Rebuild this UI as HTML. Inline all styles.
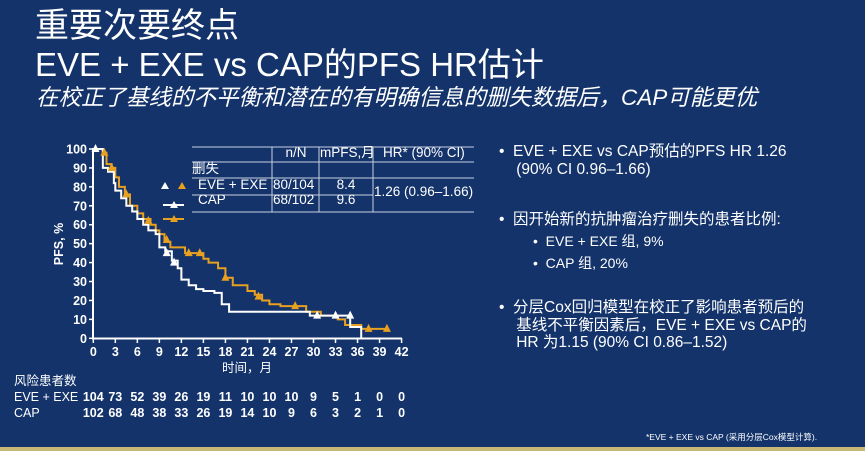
<!DOCTYPE html>
<html><head><meta charset="utf-8"><style>
body{margin:0;width:865px;height:451px;overflow:hidden;background:#13336a;font-family:"Liberation Sans","Noto Sans CJK SC",sans-serif;color:#fff;position:relative}
.a{position:absolute;white-space:nowrap}
</style></head><body>
<div class="a" style="left:35px;top:6px;font-size:34px;line-height:40px">重要次要终点</div>
<div class="a" style="left:35px;top:45px;font-size:33px;line-height:40px">EVE + EXE vs CAP的PFS HR估计</div>
<div class="a" style="left:36px;top:84px;font-size:22.5px;line-height:27px;font-style:italic">在校正了基线的不平衡和潜在的有明确信息的删失数据后，CAP可能更优</div>

<div class="a" style="left:499px;top:143px;font-size:15.5px;line-height:18px">•&nbsp;&nbsp;EVE + EXE vs CAP预估的PFS HR 1.26<br>&nbsp;&nbsp;&nbsp;&nbsp;(90% CI 0.96–1.66)</div>
<div class="a" style="left:499px;top:211px;font-size:15.5px;line-height:18px">•&nbsp;&nbsp;因开始新的抗肿瘤治疗删失的患者比例:</div>
<div class="a" style="left:533px;top:230px;font-size:14px;line-height:22px">•&nbsp;&nbsp;EVE + EXE 组, 9%<br>•&nbsp;&nbsp;CAP 组, 20%</div>
<div class="a" style="left:499px;top:299px;font-size:15.5px;line-height:17.5px">•&nbsp;&nbsp;分层Cox回归模型在校正了影响患者预后的<br>&nbsp;&nbsp;&nbsp;&nbsp;基线不平衡因素后，EVE + EXE vs CAP的<br>&nbsp;&nbsp;&nbsp;&nbsp;HR 为1.15 (90% CI 0.86–1.52)</div>
<div class="a" style="left:646px;top:431px;font-size:8.5px">*EVE + EXE vs CAP (采用分层Cox模型计算).</div>
<div class="a" style="left:0;top:447px;width:865px;height:4px;background:#c8b878"></div>

<svg class="a" style="left:0;top:0" width="865" height="451" id="s">
<g stroke="#c8d0e0" stroke-width="1" fill="none">
<line x1="192" y1="147" x2="474" y2="147"/><line x1="192" y1="162" x2="474" y2="162"/>
<line x1="192" y1="178" x2="474" y2="178"/><line x1="192" y1="195" x2="373" y2="195"/>
<line x1="192" y1="212" x2="474" y2="212"/>
<line x1="272" y1="147" x2="272" y2="212"/><line x1="319" y1="147" x2="319" y2="212"/><line x1="373" y1="147" x2="373" y2="212"/>
</g>
<g font-size="13.5" fill="#fff" font-family="Liberation Sans,Noto Sans CJK SC,sans-serif">
<text x="296" y="157" text-anchor="middle">n/N</text>
<text x="320" y="157">mPFS,月</text>
<text x="383" y="157">HR* (90% CI)</text>
<text x="192" y="173">删失</text>
<text x="198" y="189">EVE + EXE</text>
<text x="198" y="204">CAP</text>
<text x="273" y="189">80/104</text><text x="273" y="204">68/102</text>
<text x="346" y="189" text-anchor="middle">8.4</text><text x="346" y="204" text-anchor="middle">9.6</text>
<text x="374" y="196">1.26 (0.96–1.66)</text>
</g>
<polygon points="161,189 169,189 165,182" fill="#fff"/><polygon points="178,189 186,189 182,182" fill="#e8a020"/>
<line x1="163" y1="205" x2="184" y2="205" stroke="#fff" stroke-width="2"/><polygon points="170,208 178,208 174,201" fill="#fff"/>
<line x1="163" y1="219" x2="184" y2="219" stroke="#e8a020" stroke-width="2"/><polygon points="170,222 178,222 174,215" fill="#e8a020"/>
<g id="ax"></g>
</svg>
<script>
var X=m=>93.3+m*7.34, Y=p=>338.3-p*1.893;
var g=document.getElementById('ax'),h='';
h+='<line x1="93" y1="148" x2="93" y2="339" stroke="#fff" stroke-width="2"/><line x1="92" y1="338.5" x2="402" y2="338.5" stroke="#fff" stroke-width="2"/>';
for(var p=0;p<=100;p+=10){h+='<line x1="89" x2="93" y1="'+Y(p)+'" y2="'+Y(p)+'" stroke="#fff" stroke-width="1.5"/><text x="87" y="'+(Y(p)+4.5)+'" text-anchor="end" font-size="12.5" font-weight="bold" fill="#fff">'+p+'</text>';}
for(var m=0;m<=42;m+=3){h+='<line x1="'+X(m)+'" x2="'+X(m)+'" y1="338" y2="343" stroke="#fff" stroke-width="1.5"/><text x="'+X(m)+'" y="356" text-anchor="middle" font-size="12.5" font-weight="bold" fill="#fff">'+m+'</text>';}
function st(d,c){var s='M'+X(d[0][0])+','+Y(d[0][1]);for(var i=1;i<d.length;i++){s+='H'+X(d[i][0])+'V'+Y(d[i][1]);}return '<path d="'+s+'" fill="none" stroke="'+c+'" stroke-width="2"/>';}
var o=[[0,100],[1.3,98],[1.8,92],[2.5,90],[3,85],[3.5,80],[4.3,76],[5,70],[6,66],[6.8,63],[7.8,60],[8.5,57],[9,55],[9.7,51],[10.5,48],[12.5,45],[15,42],[15.7,40],[17,37],[18,32],[19,28],[21,25],[22,23],[23,20],[24,18],[25.5,17],[28.5,17],[29,14],[31,12],[33.3,10],[34.3,7],[36.5,5],[40.3,5]];
var w=[[0,100],[1.1,100],[1.3,90],[2,88],[2.8,82],[3,78],[3.8,74],[4.5,70],[5.3,67],[6,63],[6.8,60],[7.5,57],[8.5,55],[9,48],[9.8,46],[10.7,41],[11.5,37],[12,31],[13,28],[14,26],[15,25],[16.5,24],[17.5,18],[18.5,14],[29,14],[29.5,12],[35,12],[35,6],[36.5,6],[36.5,0]];
h+=st(o,'#e8a020')+st(w,'#fff');
function tri(m,p,c){var x=X(m),y=Y(p);return '<polygon points="'+(x-4)+','+(y+3)+' '+(x+4)+','+(y+3)+' '+x+','+(y-5)+'" fill="'+c+'"/>';}
[[0.3,100],[10,45],[11,40],[30.5,12],[33,12],[35,12]].forEach(t=>h+=tri(t[0],t[1],'#fff'));
[[1.5,98],[2.5,90],[4.5,76],[7.5,62],[10,52],[13,45],[14.5,45],[18,32],[22.5,22],[27.5,17],[37.5,5],[40,5]].forEach(t=>h+=tri(t[0],t[1],'#e8a020'));
h+='<text x="247" y="372" text-anchor="middle" font-size="12.5" fill="#fff">时间，月</text>';
h+='<text transform="translate(63,244) rotate(-90)" text-anchor="middle" font-size="12.5" font-weight="bold" fill="#fff">PFS, %</text>';
h+='<text x="14" y="385" font-size="12.5" fill="#fff">风险患者数</text><text x="14" y="401" font-size="12.5" fill="#fff">EVE + EXE</text><text x="14" y="417" font-size="12.5" fill="#fff">CAP</text>';
var r1=[104,73,52,39,26,19,11,10,10,10,9,5,1,0,0],r2=[102,68,48,38,33,26,19,14,10,9,6,3,2,1,0];
r1.forEach((v,i)=>h+='<text x="'+X(i*3)+'" y="401" text-anchor="middle" font-size="12.5" font-weight="bold" fill="#fff">'+v+'</text>');
r2.forEach((v,i)=>h+='<text x="'+X(i*3)+'" y="417" text-anchor="middle" font-size="12.5" font-weight="bold" fill="#fff">'+v+'</text>');
g.innerHTML=h;
</script>
</body></html>
